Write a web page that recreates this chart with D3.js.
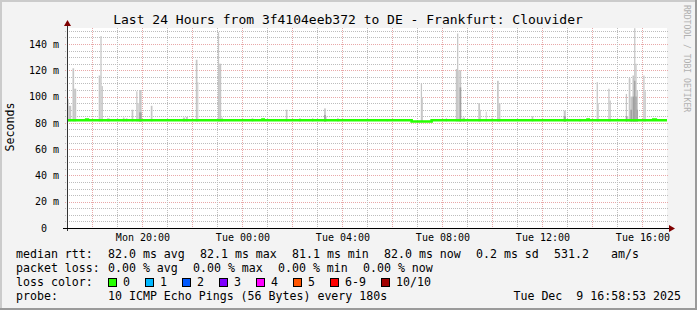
<!DOCTYPE html>
<html>
<head>
<meta charset="utf-8">
<script src="https://cdn.jsdelivr.net/npm/d3@7"></script>
<style>
html, body { margin: 0; padding: 0; background: #fff; }
svg text { font-family: "DejaVu Sans Mono", monospace; white-space: pre; }
</style>
</head>
<body>
<div id="chart"></div>
<script>

// ---- data ----
var title = 'Last 24 Hours from 3f4104eeb372 to DE - Frankfurt: Clouvider';
var rangeStart = 'Mon 16:58:53';
var rangeEnd = 'Tue 16:58:53';

var yTicks = [0, 20, 40, 60, 80, 100, 120, 140];
var yTickLabels = ['0  ', '20 m', '40 m', '60 m', '80 m', '100 m', '120 m', '140 m'];

// median rtt (ms), step changes
var medianAt = ['Mon 16:58:53', 'Mon 17:45', 'Mon 17:49', 'Tue 00:48', 'Tue 00:51', 'Tue 06:46', 'Tue 07:34',
                'Tue 13:48', 'Tue 13:51', 'Tue 16:26', 'Tue 16:32'];
var medianMs = [82.0, 82.6, 82.0, 82.6, 82.0, 81.0, 82.0, 82.6, 82.0, 82.5, 82.0];

// smoke: spread of the 10 pings per slot (ms)
var smokeFrom = ['Mon 17:00', 'Mon 17:03', 'Mon 17:12', 'Mon 17:16', 'Mon 18:15', 'Mon 18:19', 'Mon 18:22', 'Mon 18:35',
                 'Mon 19:13', 'Mon 19:20', 'Mon 19:34', 'Mon 19:45', 'Mon 19:48', 'Mon 19:52', 'Mon 20:20', 'Mon 21:37',
                 'Mon 21:44', 'Mon 22:08', 'Mon 22:12', 'Mon 23:01', 'Mon 23:04', 'Mon 23:09', 'Tue 00:22', 'Tue 01:44',
                 'Tue 02:16', 'Tue 02:47', 'Tue 03:16', 'Tue 03:20', 'Tue 03:47', 'Tue 05:46', 'Tue 07:08', 'Tue 07:11',
                 'Tue 08:08', 'Tue 08:32', 'Tue 08:35', 'Tue 08:38', 'Tue 08:41', 'Tue 08:48', 'Tue 09:26', 'Tue 09:30',
                 'Tue 09:44', 'Tue 09:58', 'Tue 10:11', 'Tue 10:15', 'Tue 11:34', 'Tue 12:51', 'Tue 13:28', 'Tue 14:10',
                 'Tue 14:13', 'Tue 14:38', 'Tue 14:41', 'Tue 15:20', 'Tue 15:23', 'Tue 15:27', 'Tue 15:31', 'Tue 15:36',
                 'Tue 15:40', 'Tue 15:43', 'Tue 15:46', 'Tue 16:02', 'Tue 16:05'];
var smokeTo =   ['Mon 17:03', 'Mon 17:09', 'Mon 17:16', 'Mon 17:21', 'Mon 18:19', 'Mon 18:22', 'Mon 18:25', 'Mon 18:41',
                 'Mon 19:17', 'Mon 19:24', 'Mon 19:38', 'Mon 19:48', 'Mon 19:51', 'Mon 19:58', 'Mon 20:24', 'Mon 21:42',
                 'Mon 21:49', 'Mon 22:12', 'Mon 22:14', 'Mon 23:04', 'Mon 23:09', 'Mon 23:13', 'Tue 00:26', 'Tue 01:48',
                 'Tue 02:20', 'Tue 02:50', 'Tue 03:20', 'Tue 03:22', 'Tue 03:51', 'Tue 05:49', 'Tue 07:11', 'Tue 07:13',
                 'Tue 08:11', 'Tue 08:35', 'Tue 08:38', 'Tue 08:41', 'Tue 08:45', 'Tue 08:54', 'Tue 09:30', 'Tue 09:32',
                 'Tue 09:46', 'Tue 10:00', 'Tue 10:15', 'Tue 10:19', 'Tue 11:38', 'Tue 12:56', 'Tue 13:33', 'Tue 14:13',
                 'Tue 14:15', 'Tue 14:41', 'Tue 14:44', 'Tue 15:23', 'Tue 15:26', 'Tue 15:31', 'Tue 15:35', 'Tue 15:40',
                 'Tue 15:43', 'Tue 15:46', 'Tue 15:49', 'Tue 16:05', 'Tue 16:08'];
var smokeMax =  [98, 93, 121.5, 106, 116, 146, 108, 83.5,
                 84, 83.5, 90, 104, 95, 105, 93, 84,
                 84.5, 128, 111, 149, 125, 84, 83.5, 90,
                 83.5, 83.5, 91, 85, 83.5, 83, 110, 99.5,
                 83.5, 121, 148, 120, 120, 84, 95, 90,
                 88.5, 84, 112, 95, 85, 89.3, 83, 111,
                 95, 106, 97, 102, 85, 114, 100, 116,
                 152, 125, 105, 116, 104];
var smokeMid =  [0, 0, 0, 0, 0, 0, 0, 0,
                 0, 0, 0, 0, 0, 88, 0, 0,
                 0, 0, 0, 0, 0, 0, 0, 0,
                 0, 0, 86, 0, 0, 0, 0, 0,
                 0, 0, 0, 0, 107, 0, 0, 0,
                 0, 0, 0, 0, 0, 85, 0, 0,
                 0, 0, 0, 85, 0, 0, 90, 100,
                 112, 100, 90, 0, 0];
var smokeFloor = 81;

// legend
var rttStats = ['82.0 ms avg', '82.1 ms max', '81.1 ms min', '82.0 ms now', '0.2 ms sd', '531.2', ' am/s'];
var lossStats = ['0.00 % avg', '0.00 % max', '0.00 % min', '0.00 % now'];
var lossLabels = ['0', '1', '2', '3', '4', '5', '6-9', '10/10'];
var lossColors = ['#26ff00', '#00b8ff', '#0059ff', '#7e00ff', '#ff00ff', '#ff5500', '#ff0000', '#a10000'];
var probeText = '10 ICMP Echo Pings (56 Bytes) every 180s';
var stampText = 'Tue Dec  9 16:58:53 2025';

// ---- helpers ----
function when(s) {
    var p = s.split(/[ :]/);
    var day = p[0] === 'Mon' ? 8 : 9;
    return new Date(2025, 11, day, +p[1], +p[2], p[3] ? +p[3] : 0);
}

var width = 697, height = 310;
var X0 = 67, X1 = 667, Y0 = 228, Y1 = 28;

var svg = d3.select('#chart')
    .append('svg')
    .attr('width', width)
    .attr('height', height);

// frame + background
svg.append('rect').attr('width', width).attr('height', height).attr('fill', '#f3f3f3');
svg.append('path').attr('d', 'M0,' + height + 'V0H' + width).attr('fill', 'none')
    .attr('stroke', '#cbcbcb').attr('stroke-width', 4);
svg.append('path').attr('d', 'M0,' + height + 'H' + width + 'V0').attr('fill', 'none')
    .attr('stroke', '#9a9a9a').attr('stroke-width', 4);
svg.append('rect').attr('x', X0).attr('y', Y1).attr('width', X1 - X0).attr('height', Y0 - Y1).attr('fill', '#fff');

var x = d3.scaleTime()
    .domain([when(rangeStart), when(rangeEnd)])
    .range([X0, X1]);

var y = d3.scaleLinear()
    .domain([0, 140])
    .range([Y0, 44]);

var gridCol = '#bdbdbd', mgridCol = '#e8a8a8';

// horizontal grid: minor every 5, major every 20
var yMinor = d3.range(5, 155, 5).filter(function(v) { return v % 20 !== 0 && y(v) >= Y1; });
var grid = svg.append('g');
grid.selectAll('.hmin').data(yMinor).enter().append('line')
    .attr('x1', X0 - 2).attr('x2', X1 + 2)
    .attr('y1', function(d) { return Math.round(y(d)) + 0.5; })
    .attr('y2', function(d) { return Math.round(y(d)) + 0.5; })
    .attr('stroke', gridCol).attr('stroke-dasharray', '1,1');
grid.selectAll('.hmaj').data(yTicks.slice(1)).enter().append('line')
    .attr('x1', X0 - 2).attr('x2', X1 + 2)
    .attr('y1', function(d) { return Math.round(y(d)) + 0.5; })
    .attr('y2', function(d) { return Math.round(y(d)) + 0.5; })
    .attr('stroke', mgridCol).attr('stroke-dasharray', '1,1');

// vertical grid: minor every hour, major every 2 hours
var hours = d3.timeHour.range(x.domain()[0], x.domain()[1]);
grid.selectAll('.vg').data(hours).enter().append('line')
    .attr('x1', function(d) { return Math.round(x(d)) + 0.5; })
    .attr('x2', function(d) { return Math.round(x(d)) + 0.5; })
    .attr('y1', Y1).attr('y2', Y0 + 2)
    .attr('stroke', function(d) { return d.getHours() % 2 === 0 ? mgridCol : gridCol; })
    .attr('stroke-dasharray', '1,1');

// smoke
var smoke = smokeFrom.map(function(f, i) {
    return { from: when(f), to: when(smokeTo[i]), max: smokeMax[i], mid: smokeMid[i] };
});
svg.append('g').selectAll('rect').data(smoke).enter().append('rect')
    .attr('x', function(d) { return x(d.from); })
    .attr('width', function(d) { return x(d.to) - x(d.from); })
    .attr('y', function(d) { return y(d.max); })
    .attr('height', function(d) { return y(smokeFloor) - y(d.max); })
    .attr('fill', '#c6c6c6');
svg.append('g').selectAll('rect').data(smoke.filter(function(d) { return d.mid > 0; })).enter().append('rect')
    .attr('x', function(d) { return x(d.from); })
    .attr('width', function(d) { return x(d.to) - x(d.from); })
    .attr('y', function(d) { return y(d.mid); })
    .attr('height', function(d) { return y(smokeFloor) - y(d.mid); })
    .attr('fill', '#a0a0a0');

// median line
var med = medianAt.map(function(t, i) { return { t: when(t), v: medianMs[i] }; });
med.push({ t: when(rangeEnd), v: medianMs[medianMs.length - 1] });
svg.append('path')
    .datum(med)
    .attr('fill', 'none')
    .attr('stroke', lossColors[0])
    .attr('stroke-width', 2.6)
    .attr('d', d3.line().curve(d3.curveStepAfter)
        .x(function(d) { return x(d.t); })
        .y(function(d) { return y(d.v); }));

// axes lines + arrows
svg.append('line').attr('x1', X0 + 0.5).attr('x2', X0 + 0.5).attr('y1', Y0 + 3).attr('y2', Y1 - 2)
    .attr('stroke', '#333');
svg.append('line').attr('x1', X0 - 4).attr('x2', X1 + 3).attr('y1', Y0 + 0.5).attr('y2', Y0 + 0.5)
    .attr('stroke', '#000');
svg.append('path').attr('d', 'M' + (X0 - 3) + ',' + (Y1 - 2) + 'L' + (X0 + 4) + ',' + (Y1 - 2) + 'L' + (X0 + 0.5) + ',' + (Y1 - 8) + 'Z')
    .attr('fill', '#7f0000');
svg.append('path').attr('d', 'M' + (X1 + 2) + ',' + (Y0 - 3) + 'L' + (X1 + 2) + ',' + (Y0 + 4) + 'L' + (X1 + 8) + ',' + (Y0 + 0.5) + 'Z')
    .attr('fill', '#7f0000');

// tick labels
var yaxis = d3.axisLeft(y)
    .tickValues(yTicks)
    .tickSize(0)
    .tickPadding(0)
    .tickFormat(function(d, i) { return yTickLabels[i]; });
svg.append('g')
    .attr('transform', 'translate(59,0)')
    .call(yaxis)
    .call(function(g) { g.select('.domain').remove(); })
    .selectAll('text')
    .attr('font-family', 'DejaVu Sans Mono')
    .style('font-size', '10px')
    .attr('fill', '#000');

var xaxis = d3.axisBottom(x)
    .ticks(d3.timeHour.every(4))
    .tickSize(0)
    .tickFormat(d3.timeFormat('%a %H:%M'));
svg.append('g')
    .attr('transform', 'translate(0,' + Y0 + ')')
    .call(xaxis)
    .call(function(g) { g.select('.domain').remove(); })
    .selectAll('text')
    .attr('y', 13)
    .attr('dy', 0)
    .attr('font-family', 'DejaVu Sans Mono')
    .style('font-size', '10px')
    .attr('fill', '#000');

// title & side texts
svg.append('text')
    .attr('x', 348).attr('y', 24)
    .attr('text-anchor', 'middle')
    .style('font-size', '13px')
    .text(title);

svg.append('text')
    .attr('transform', 'translate(14,127) rotate(-90)')
    .attr('text-anchor', 'middle')
    .style('font-size', '11.6px')
    .text('Seconds');

svg.append('text')
    .attr('transform', 'translate(684,5) rotate(90)')
    .style('font-size', '8.1px')
    .attr('fill', '#b0b0b0')
    .text('RRDTOOL / TOBI OETIKER');

// legend
var charW = 7, gap = 15, labelX = 16, valX = 108;
var rowY = [258, 272, 286, 300];
var legend = svg.append('g').style('font-size', '11.6px');

function row(label, items, yy) {
    legend.append('text').attr('x', labelX).attr('y', yy).text(label);
    var cx = valX;
    items.forEach(function(s) {
        legend.append('text').attr('x', cx).attr('y', yy).text(s);
        cx += s.length * charW + gap;
    });
}
row('median rtt:', rttStats, rowY[0]);
row('packet loss:', lossStats, rowY[1]);

legend.append('text').attr('x', labelX).attr('y', rowY[2]).text('loss color:');
var bx = valX;
lossLabels.forEach(function(l, i) {
    legend.append('rect')
        .attr('x', bx + 0.5).attr('y', rowY[2] - 7.5)
        .attr('width', 8).attr('height', 8)
        .attr('fill', lossColors[i]).attr('stroke', '#000');
    legend.append('text').attr('x', bx + 15).attr('y', rowY[2]).text(l);
    bx += 15 + l.length * charW + gap;
});

legend.append('text').attr('x', labelX).attr('y', rowY[3]).text('probe:');
legend.append('text').attr('x', valX).attr('y', rowY[3]).text(probeText);
legend.append('text').attr('x', 681).attr('y', rowY[3]).attr('text-anchor', 'end').text(stampText);

</script>
</body>
</html>
